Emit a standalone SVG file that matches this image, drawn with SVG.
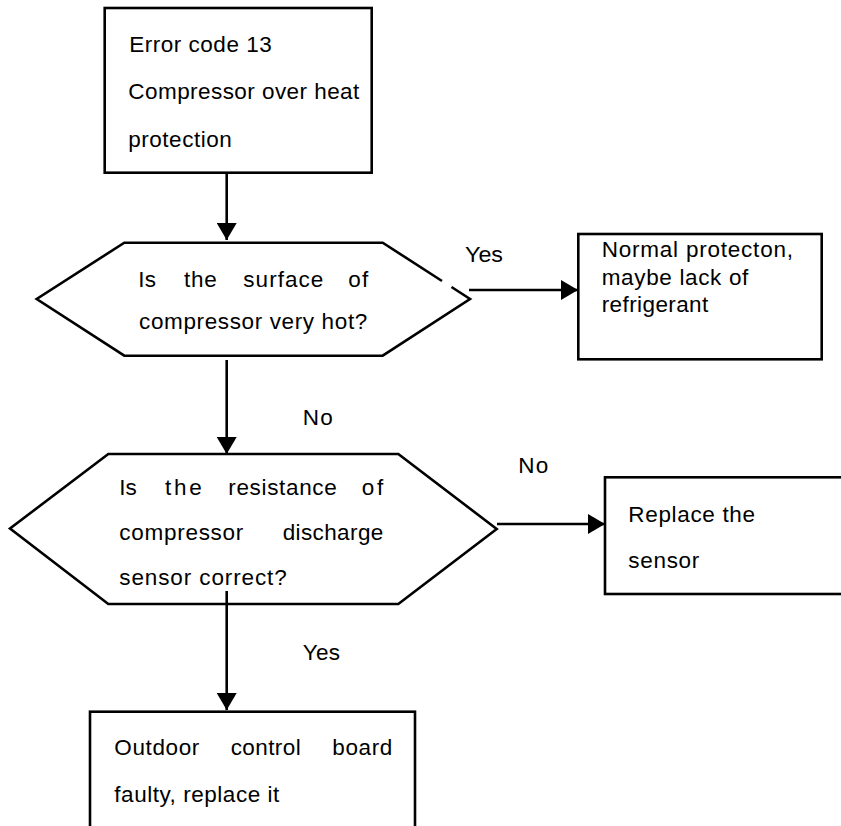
<svg xmlns="http://www.w3.org/2000/svg" width="841" height="826" viewBox="0 0 841 826">
<style>
.shape{fill:none;stroke:#000;stroke-width:2.6;stroke-linejoin:miter}
.box{fill:#fff;stroke:#000;stroke-width:2.6}
.conn{stroke:#000;stroke-width:2.6;fill:none}
text{font-family:"Liberation Sans",Arial,sans-serif;font-size:22.5px;fill:#000}
</style>
<defs>
<marker id="arrow" markerUnits="userSpaceOnUse" markerWidth="18" markerHeight="20" refX="17" refY="10" orient="auto" viewBox="0 0 17 20">
<path d="M0,0 L17,10 L0,20 Z" fill="#000"/>
</marker>
</defs>
<rect width="841" height="826" fill="#fff"/>
<g id="connectors">
<line class="conn" x1="226.7" y1="172.7" x2="226.7" y2="240" marker-end="url(#arrow)"/>
<line class="conn" x1="469" y1="290" x2="578" y2="290" marker-end="url(#arrow)"/>
<line class="conn" x1="226.7" y1="360" x2="226.7" y2="454" marker-end="url(#arrow)"/>
<line class="conn" x1="497" y1="524" x2="605" y2="524" marker-end="url(#arrow)"/>
<line class="conn" x1="226.7" y1="591" x2="226.7" y2="710" marker-end="url(#arrow)"/>
<text x="465" y="261.5" textLength="38" lengthAdjust="spacingAndGlyphs">Yes</text>
<text x="302.7" y="425" textLength="30">No</text>
<text x="518.3" y="473.3" textLength="30">No</text>
<text x="302.7" y="660" textLength="37.3">Yes</text>
</g>
<g id="start">
<rect class="box" x="104.7" y="8" width="267" height="164.7"/>
<text x="129.3" y="51.7" textLength="142.4">Error code 13</text>
<text x="128.3" y="99.3" textLength="231">Compressor over heat</text>
<text x="128.3" y="146.5" textLength="103.4">protection</text>
</g>
<g id="q1">
<path class="shape" d="M451.5,287 L470,299 L382.7,355.7 L124.3,355.7 L36.7,299 L124.3,242.7 L382.7,242.7 L442,281"/>
<text x="138.3" y="286.7" textLength="17.7">Is</text>
<text x="184" y="286.7" textLength="32.7">the</text>
<text x="243.3" y="286.7" textLength="80">surface</text>
<text x="348.3" y="286.7" textLength="20">of</text>
<text x="139" y="329" textLength="228.3">compressor very hot?</text>
</g>
<g id="normal">
<rect class="box" x="578.3" y="234" width="243.4" height="125.3"/>
<text x="601.7" y="256.7" textLength="191.3">Normal protecton,</text>
<text x="601.7" y="284.5" textLength="146.6">maybe lack of</text>
<text x="601.7" y="311.7" textLength="106.6">refrigerant</text>
</g>
<g id="q2">
<polygon class="shape" points="108.3,454 398.3,454 496.7,529 398.3,604 108.3,604 10,528.5"/>
<text x="119.3" y="495" textLength="17.4">Is</text>
<text x="165" y="495" textLength="36.7">the</text>
<text x="228.3" y="495" textLength="108.4">resistance</text>
<text x="361.7" y="495" textLength="21.6">of</text>
<text x="119.3" y="540" textLength="124">compressor</text>
<text x="282.7" y="540" textLength="100.6">discharge</text>
<text x="119.3" y="585" textLength="167.4">sensor correct?</text>
</g>
<g id="replace">
<rect class="box" x="605" y="477.3" width="250" height="116.7"/>
<text x="628.3" y="521.7" textLength="126.7">Replace the</text>
<text x="628.3" y="568.3" textLength="71">sensor</text>
</g>
<g id="board">
<rect class="box" x="90" y="711.7" width="325" height="130"/>
<text x="114.3" y="755" textLength="85">Outdoor</text>
<text x="230.7" y="755" textLength="70">control</text>
<text x="332.3" y="755" textLength="60">board</text>
<text x="114.3" y="801.7" textLength="165">faulty, replace it</text>
</g>
</svg>
